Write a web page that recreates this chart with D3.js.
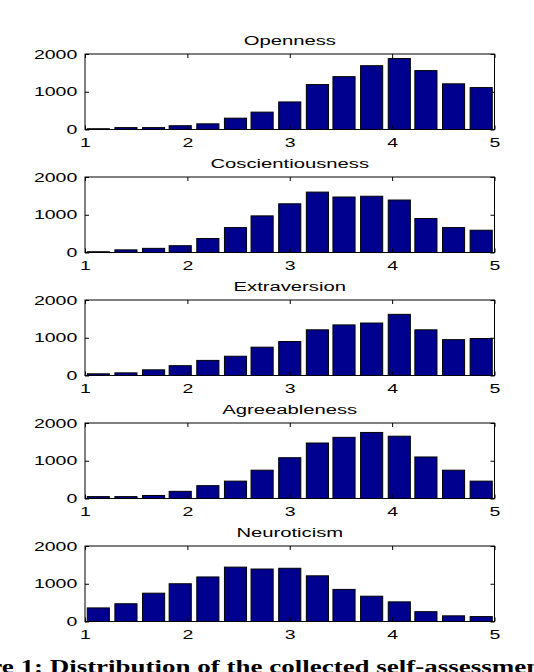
<!DOCTYPE html>
<html>
<head>
<meta charset="utf-8">
<script src="https://cdn.jsdelivr.net/npm/d3@7"></script>
<style>
  body { margin: 0; background: #fff; }
  svg { display: block; }
</style>
</head>
<body>
<div id="chart"></div>
<script>
// --------------- Data --------------- //

// Histogram bin centres (score 1 to 5, 15 bins)
const binCenters = [1.13, 1.4, 1.67, 1.93, 2.2, 2.47, 2.73, 3.0, 3.27, 3.53, 3.8, 4.07, 4.33, 4.6, 4.87];

// Panel titles (spelling as in the original figure)
const traits = ["Openness", "Coscientiousness", "Extraversion", "Agreeableness", "Neuroticism"];

// Counts per bin for each trait
const openness          = [20, 50, 50, 100, 150, 300, 460, 730, 1190, 1400, 1690, 1880, 1560, 1210, 1110];
const conscientiousness = [20, 70, 110, 180, 370, 660, 970, 1290, 1600, 1470, 1490, 1390, 900, 660, 590];
const extraversion      = [45, 70, 150, 260, 400, 510, 750, 900, 1210, 1340, 1390, 1620, 1210, 950, 980];
const agreeableness     = [50, 50, 80, 190, 340, 460, 750, 1080, 1470, 1620, 1750, 1650, 1100, 750, 460];
const neuroticism       = [360, 470, 750, 1000, 1180, 1440, 1390, 1410, 1210, 850, 670, 520, 260, 150, 130];

const series = [openness, conscientiousness, extraversion, agreeableness, neuroticism];

// Tick labels
const xTicks = [1, 2, 3, 4, 5];
const yTicks = [0, 1000, 2000];

const caption = "Figure 1: Distribution of the collected self-assessments";


// --------------- Basic Setup --------------- //

const width = 534,
    height = 672;

const left = 85, right = 494.5,
    firstTop = 54, panelStep = 123, panelH = 75.5;

const stretch = 1.5;       // the figure text is stretched sideways
const barColor = "#00008F";
const font = "'Liberation Sans', Arial, Helvetica, sans-serif";

const svg = d3.select("#chart")
    .append("svg")
    .attr("width", width)
    .attr("height", height);

const x = d3.scaleLinear()
    .domain([1, 5])
    .range([left, right]);

const barW = x(binCenters[0] + 0.8 * (binCenters[1] - binCenters[0])) - x(binCenters[0]);


// --------------- Build the Panels --------------- //

traits.forEach((name, i) => {
    const top = firstTop + i * panelStep;
    const y = d3.scaleLinear()
        .domain([0, 2000])
        .range([top + panelH, top]);

    const g = svg.append("g");

    // Bars
    g.selectAll("rect.bar")
        .data(series[i])
        .join("rect")
        .attr("class", "bar")
        .attr("x", (d, j) => x(binCenters[j]) - barW / 2)
        .attr("width", barW)
        .attr("y", d => y(d))
        .attr("height", d => y(0) - y(d))
        .attr("fill", barColor)
        .attr("stroke", "#000")
        .attr("stroke-width", 1);

    // Bottom axis with labels
    const xAxis = g.append("g")
        .attr("transform", `translate(0,${y(0)})`)
        .call(d3.axisBottom(x).tickValues(xTicks).tickFormat(d3.format("d"))
            .tickSizeInner(-4).tickSizeOuter(0).tickPadding(8));
    xAxis.selectAll("text")
        .attr("transform", `scale(${stretch},1)`);

    // Top ticks
    g.append("g")
        .attr("transform", `translate(0,${top})`)
        .call(d3.axisTop(x).tickValues(xTicks).tickSizeInner(-4).tickSizeOuter(0).tickFormat(""));

    // Left axis with labels
    const yAxis = g.append("g")
        .attr("transform", `translate(${left},0)`)
        .call(d3.axisLeft(y).tickValues(yTicks).tickFormat(d3.format("d"))
            .tickSizeInner(-4).tickSizeOuter(0));
    yAxis.selectAll("text")
        .attr("x", -7.7 / stretch)
        .attr("transform", `scale(${stretch},1)`);

    // Right ticks
    g.append("g")
        .attr("transform", `translate(${right},0)`)
        .call(d3.axisRight(y).tickValues(yTicks).tickSizeInner(-4).tickSizeOuter(0).tickFormat(""));

    g.selectAll(".domain").remove();
    g.selectAll(".tick line").attr("stroke", "#000");
    g.selectAll(".tick text")
        .attr("fill", "#000")
        .style("font-family", font)
        .style("font-size", "13px");

    // Box
    g.append("rect")
        .attr("x", left)
        .attr("y", top)
        .attr("width", right - left)
        .attr("height", panelH)
        .attr("fill", "none")
        .attr("stroke", "#000")
        .attr("stroke-width", 1);

    // Title
    g.append("text")
        .attr("transform", `translate(${(left + right) / 2},${top - 9}) scale(${stretch},1)`)
        .attr("text-anchor", "middle")
        .style("font-family", font)
        .style("font-size", "13.5px")
        .attr("fill", "#000")
        .text(name);
});


// --------------- Caption (cut off by the crop) --------------- //

const capFont = "'Liberation Serif', 'Times New Roman', serif";
const measure = str => {
    const t = svg.append("text")
        .style("font-family", capFont)
        .style("font-size", "19px")
        .style("font-weight", "bold")
        .text(str);
    const w = t.node().getComputedTextLength();
    t.remove();
    return w;
};
const prefixW = measure("Figure 1: ");
const visibleW = measure("Distribution of the collected self-assessmen");
const capScale = (535 - 43) / visibleW;

svg.append("text")
    .attr("transform", `translate(0,673) scale(${capScale},1)`)
    .attr("x", 43 / capScale - prefixW)
    .style("font-family", capFont)
    .style("font-size", "19px")
    .style("font-weight", "bold")
    .attr("fill", "#000")
    .text(caption);
</script>
</body>
</html>
